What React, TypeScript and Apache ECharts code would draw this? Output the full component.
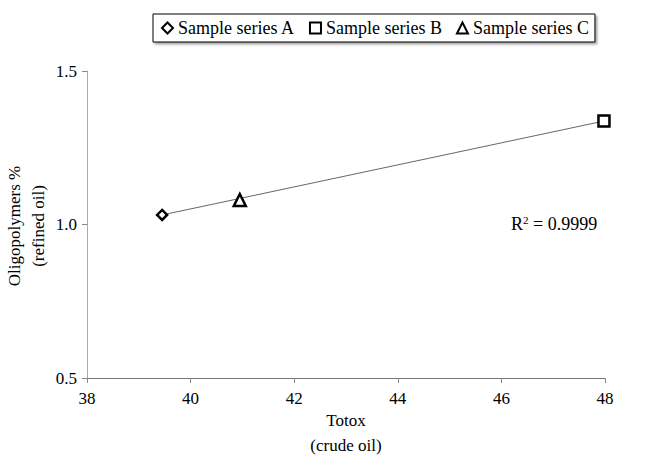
import React, { useEffect, useRef } from "react";
import * as echarts from "echarts";

const seriesNames = ["Sample series A", "Sample series B", "Sample series C"];
const seriesSymbols = ["diamond", "rect", "triangle"];
const seriesSizes = [10, 11, 12];
const pointsX = [39.45, 47.98, 40.95];
const pointsY = [1.031, 1.337, 1.08];
const trendX = [39.45, 47.98];
const trendY = [1.031, 1.337];
const xTicks = { min: 38, max: 48, interval: 2 };
const yTicks = { min: 0.5, max: 1.5, interval: 0.5 };
const xAxisTitle = "Totox\n(crude oil)";
const yAxisTitle = "Oligopolymers %\n(refined oil)";
const r2Text = "0.9999";

const FONT = "'Liberation Serif', 'Times New Roman', serif";

export default function App() {
  const ref = useRef<HTMLDivElement>(null);
  useEffect(() => {
    if (!ref.current) return;
    const chart = echarts.init(ref.current, null, { renderer: "svg" });
    const scatter = seriesNames.map((name, i) => ({
      name,
      type: "scatter",
      symbol: seriesSymbols[i],
      symbolSize: seriesSizes[i],
      itemStyle: { color: "#ffffff", borderColor: "#000000", borderWidth: 2.5, opacity: 1 },
      data: [[pointsX[i], pointsY[i]]],
      z: 5,
    }));
    chart.setOption({
      animation: false,
      backgroundColor: "#ffffff",
      textStyle: { fontFamily: FONT },
      grid: { left: 87, right: 43, top: 71, bottom: 80, outerBoundsMode: "none", containLabel: false },
      legend: {
        data: seriesNames,
        left: 153,
        top: 14,
        padding: [5, 6, 5, 8],
        itemGap: 14,
        itemWidth: 11,
        itemHeight: 11,
        borderColor: "#000000",
        borderWidth: 1,
        shadowColor: "rgba(0,0,0,0.35)",
        shadowBlur: 2,
        shadowOffsetX: 2,
        shadowOffsetY: 2,
        backgroundColor: "#ffffff",
        textStyle: { fontFamily: FONT, fontSize: 18, color: "#000000" },
      },
      xAxis: {
        type: "value",
        min: xTicks.min,
        max: xTicks.max,
        interval: xTicks.interval,
        axisLine: { lineStyle: { color: "#777777", width: 1 } },
        axisTick: { show: true, length: 5, lineStyle: { color: "#888888" } },
        axisLabel: { fontFamily: FONT, fontSize: 17, color: "#000", margin: 12 },
        splitLine: { show: false },
      },
      yAxis: {
        type: "value",
        min: yTicks.min,
        max: yTicks.max,
        interval: yTicks.interval,
        axisLine: { show: true, lineStyle: { color: "#aaaaaa", width: 1 } },
        axisTick: { show: true, length: 5, lineStyle: { color: "#888888" } },
        axisLabel: {
          fontFamily: FONT,
          fontSize: 17,
          color: "#000",
          margin: 10,
          formatter: (v: number) => v.toFixed(1),
        },
        splitLine: { show: false },
      },
      series: [
        {
          name: "trend",
          type: "line",
          data: trendX.map((x, i) => [x, trendY[i]]),
          showSymbol: false,
          symbol: "none",
          lineStyle: { color: "#666666", width: 1 },
          z: 2,
          silent: true,
        },
        ...scatter,
      ],
      graphic: [
        {
          type: "text",
          x: 346,
          y: 433,
          style: {
            text: xAxisTitle,
            fontFamily: FONT,
            fontSize: 17,
            lineHeight: 25,
            fill: "#000",
            align: "center",
            verticalAlign: "middle",
          },
        },
        {
          type: "text",
          x: 26,
          y: 226,
          rotation: Math.PI / 2,
          style: {
            text: yAxisTitle,
            fontFamily: FONT,
            fontSize: 17,
            lineHeight: 24,
            fill: "#000",
            align: "center",
            verticalAlign: "middle",
          },
        },
        {
          type: "text",
          left: 511,
          top: 214,
          style: {
            text: "{b|R}{s|2}{b| = " + r2Text + "}",
            rich: {
              b: { fontFamily: FONT, fontSize: 18, fill: "#000", verticalAlign: "bottom" },
              s: { fontFamily: FONT, fontSize: 11, fill: "#000", verticalAlign: "top", padding: [0, 0, 8, 0] },
            },
          },
        },
      ],
    });
    return () => chart.dispose();
  }, []);
  return (
    <div
      ref={ref}
      style={{ position: "fixed", left: 0, top: 0, width: 648, height: 458, background: "#fff" }}
    />
  );
}
